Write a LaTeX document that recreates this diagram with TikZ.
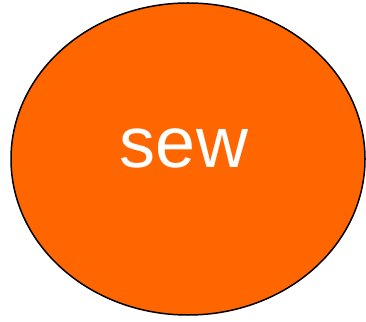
\documentclass[tikz,border=0pt]{standalone}
\usepackage{fontspec}
\setmainfont{Liberation Sans}
\usepackage{xcolor}
\usepackage{tikz}
\usetikzlibrary{shapes.geometric}

\definecolor{sewOrange}{HTML}{FF6600}

\begin{document}
\begin{tikzpicture}[x=1pt, y=1pt,
		oval/.style={draw, ellipse, fill=sewOrange, line width=1.5pt, inner sep=0pt, outer sep=0pt, minimum width=354pt, minimum height=312pt},
		word/.style={text=white, inner sep=0pt, font=\fontsize{72}{72}\selectfont}]
			\useasboundingbox (0,0) rectangle (366,321);
			
			\node[oval] (sew) at (188,162) {};
			\node[word] (sewtext) at ([xshift=-4pt, yshift=11pt]sew.center) {sew};
		\end{tikzpicture}
\end{document}
